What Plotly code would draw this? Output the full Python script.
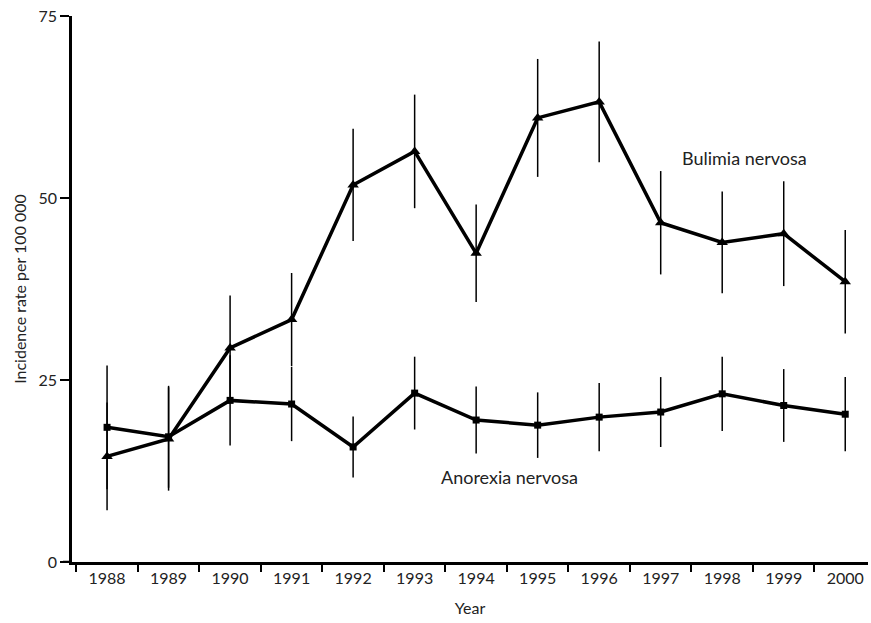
import plotly.graph_objects as go

years = ["1988", "1989", "1990", "1991", "1992", "1993", "1994",
         "1995", "1996", "1997", "1998", "1999", "2000"]
bulimia = [14.5, 16.9, 29.4, 33.3, 51.8, 56.4, 42.4, 61.0, 63.2, 46.6, 43.9, 45.1, 38.5]
bulimia_err = [7.4, 7.1, 7.2, 6.4, 7.7, 7.8, 6.7, 8.1, 8.3, 7.1, 7.0, 7.2, 7.1]
anorexia = [18.5, 17.2, 22.2, 21.7, 15.8, 23.2, 19.5, 18.8, 19.9, 20.6, 23.1, 21.5, 20.3]
anorexia_err = [8.5, 7.0, 6.2, 5.1, 4.2, 5.0, 4.6, 4.5, 4.7, 4.8, 5.1, 5.0, 5.1]
y_ticks = [0, 25, 50, 75]

FONT = "Lato, 'Open Sans', sans-serif"

fig = go.Figure()
fig.add_trace(go.Scatter(
    x=years, y=anorexia, mode="lines+markers",
    line=dict(color="black", width=3.5),
    marker=dict(symbol="square", size=7, color="black"),
    error_y=dict(type="data", array=anorexia_err, visible=True,
                 thickness=1.5, width=0, color="black"),
    showlegend=False,
))
fig.add_trace(go.Scatter(
    x=years, y=bulimia, mode="lines+markers",
    line=dict(color="black", width=3.5),
    marker=dict(symbol="triangle-up", size=10, color="black"),
    error_y=dict(type="data", array=bulimia_err, visible=True,
                 thickness=1.5, width=0, color="black"),
    showlegend=False,
))

fig.add_annotation(x=10.37, y=55.5, text="Bulimia nervosa", showarrow=False,
                   font=dict(family=FONT, size=18, color="#222"))
fig.add_annotation(x=6.55, y=11.7, text="Anorexia nervosa", showarrow=False,
                   font=dict(family=FONT, size=18, color="#222"))

# small extension of the x-axis line to the left of the y-axis
fig.add_shape(type="line", xref="paper", yref="y",
              x0=-9/796, x1=0, y0=0, y1=0,
              line=dict(color="black", width=2.5))

fig.update_layout(
    width=871, height=623,
    margin=dict(l=72, r=3, t=16, b=61, autoexpand=False),
    paper_bgcolor="white", plot_bgcolor="white",
    font=dict(family=FONT, size=16, color="#222"),
    xaxis=dict(
        type="category", range=[-0.57, 12.37], automargin=False,
        tickson="boundaries", ticks="outside", ticklen=7, tickwidth=1.5,
        tickcolor="black", ticklabeloverflow="allow",
        showline=True, linecolor="black", linewidth=2.5,
        showgrid=False, zeroline=False,
        title=dict(text="Year", standoff=17, font=dict(size=16)),
        tickfont=dict(size=16),
    ),
    yaxis=dict(
        range=[0, 75], tickvals=y_ticks, ticks="outside", ticklen=9,
        tickwidth=1.5, tickcolor="black", automargin=False,
        ticklabeloverflow="allow",
        showline=True, linecolor="black", linewidth=2.5,
        showgrid=False, zeroline=False,
        title=dict(text="Incidence rate per 100 000", standoff=8, font=dict(size=16)),
        tickfont=dict(size=16),
    ),
)

# remove the browser's default 8px body margin so the figure fills the window
fig.write_html("out.html", config={"displayModeBar": False},
               post_script="document.body.style.margin='0';")
